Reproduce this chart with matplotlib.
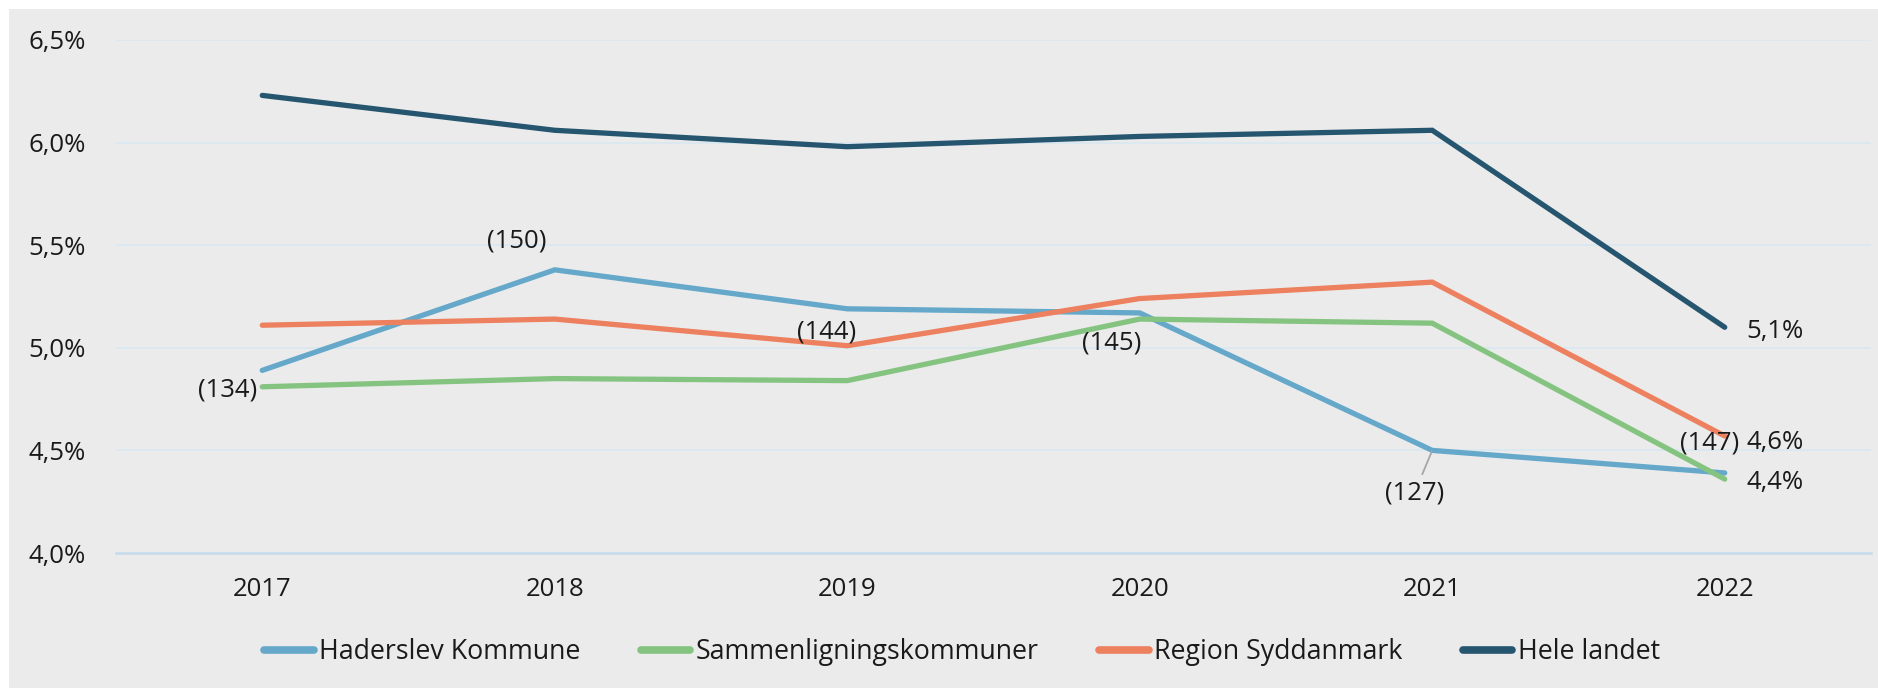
import matplotlib
matplotlib.use("Agg")
import matplotlib.pyplot as plt
from matplotlib.patches import Rectangle

plt.rcParams['font.family'] = ['Open Sans', 'DejaVu Sans']

years = ['2017', '2018', '2019', '2020', '2021', '2022']
haderslev = [4.89, 5.38, 5.19, 5.17, 4.50, 4.39]
sammenligning = [4.81, 4.85, 4.84, 5.14, 5.12, 4.36]
region = [5.11, 5.14, 5.01, 5.24, 5.32, 4.57]
hele_landet = [6.23, 6.06, 5.98, 6.03, 6.06, 5.10]

series_names = ['Haderslev Kommune', 'Sammenligningskommuner', 'Region Syddanmark', 'Hele landet']
colors = ['#65A8CA', '#85C480', '#EC805F', '#26566F']

haderslev_counts = ['(134)', '(150)', '(144)', '(145)', '(127)', '(147)']
end_labels = ['5,1%', '4,6%', '4,4%']

y_ticks = [4.0, 4.5, 5.0, 5.5, 6.0, 6.5]
y_tick_labels = ['4,0%', '4,5%', '5,0%', '5,5%', '6,0%', '6,5%']

W, H = 1878, 688
fig = plt.figure(figsize=(W / 100, H / 100), dpi=100, facecolor='white')
# grey panel with a thin white margin top/left
fig.patches.append(Rectangle((9 / W, 0), 1 - 9 / W, 1 - 9 / H, transform=fig.transFigure,
                             facecolor='#EBEBEB', edgecolor='none', zorder=-10))

ax = fig.add_axes([116 / W, 1 - 553 / H, (1871 - 116) / W, (553 - 40) / H])
ax.set_facecolor('none')

x = list(range(len(years)))
all_series = [haderslev, sammenligning, region, hele_landet]
for vals, name, c in zip(all_series, series_names, colors):
    ax.plot(x, vals, color=c, lw=3.8, label=name, solid_capstyle='round', solid_joinstyle='miter', zorder=3)

ax.set_xlim(-0.5, len(years) - 0.5)
ax.set_ylim(4.0, 6.5)
ax.set_xticks(x)
ax.set_xticklabels(years)
ax.set_yticks(y_ticks)
ax.set_yticklabels(y_tick_labels)
ax.tick_params(axis='both', length=0, labelsize=18.5, colors='#1a1a1a')
ax.tick_params(axis='y', pad=22)
ax.tick_params(axis='x', pad=17)
ax.grid(axis='y', color='#DCE8F1', lw=1.4, zorder=1)
for s in ['top', 'right', 'left']:
    ax.spines[s].set_visible(False)
ax.spines['bottom'].set_color('#C6DCEA')
ax.spines['bottom'].set_linewidth(1.8)

# data labels for Haderslev (counts), offsets in points
px = 0.72
offsets = [(-5, -20, 'right'), (-8, 29, 'right'), (-21, -23, 'center'),
           (2, -30, 'right'), (-18, -43, 'center'), (-15, 30, 'center')]
for i, (lab, (dx, dy, ha)) in enumerate(zip(haderslev_counts, offsets)):
    if i == 4:
        ax.annotate(lab, xy=(x[i], haderslev[i]), xytext=(dx * px, dy * px),
                    textcoords='offset points', ha=ha, va='center', fontsize=18.5, color='#1a1a1a',
                    arrowprops=dict(arrowstyle='-', color='#A6A6A6', lw=1.3,
                                    shrinkA=3, shrinkB=1))
    else:
        ax.annotate(lab, xy=(x[i], haderslev[i]), xytext=(dx * px, dy * px),
                    textcoords='offset points', ha=ha, va='center', fontsize=18.5, color='#1a1a1a')

# end-of-line percentage labels
end_vals = [hele_landet[-1], region[-1], sammenligning[-1]]
end_dy = [-4, -6, -3]
for lab, v, dy in zip(end_labels, end_vals, end_dy):
    ax.annotate(lab, xy=(x[-1], v), xytext=(22 * px, dy * px), textcoords='offset points',
                ha='left', va='center', fontsize=18.5, color='#1a1a1a')

ax.legend(loc='center', bbox_to_anchor=(962 / W, 1 - 652 / H), bbox_transform=fig.transFigure,
          ncol=4, frameon=False, fontsize=19.3, handlelength=1.85, handletextpad=0.2,
          columnspacing=2.25, labelcolor='#1a1a1a')
for line in ax.get_legend().get_lines():
    line.set_linewidth(5.5)

fig.savefig('out.png', dpi=100, facecolor=fig.get_facecolor())
